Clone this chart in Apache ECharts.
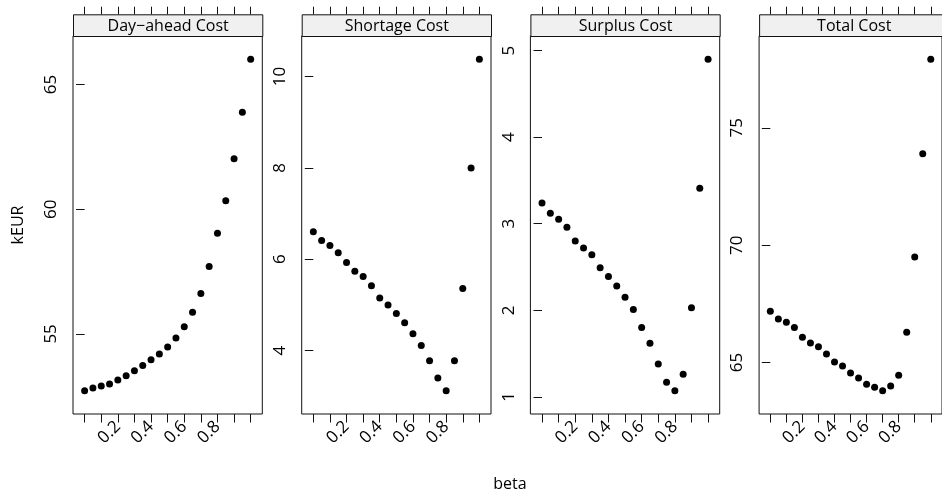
<!DOCTYPE html>
<html><head><meta charset="utf-8">
<script src="https://cdn.jsdelivr.net/npm/echarts@6/dist/echarts.min.js"></script>
<style>html,body{margin:0;padding:0;background:#fff}#c{width:942px;height:499px}</style>
</head><body><div id="c"></div><script>
const beta = [0, 0.05, 0.1, 0.15, 0.2, 0.25, 0.3, 0.35, 0.4, 0.45, 0.5, 0.55, 0.6, 0.65, 0.7, 0.75, 0.8, 0.85, 0.9, 0.95, 1.0];
const panelTitles = ['Day\u2212ahead Cost', 'Shortage Cost', 'Surplus Cost', 'Total Cost'];
const dayAhead = [52.72, 52.83, 52.91, 52.99, 53.15, 53.32, 53.52, 53.73, 53.96, 54.19, 54.48, 54.84, 55.29, 55.87, 56.62, 57.70, 59.03, 60.34, 62.02, 63.88, 66.01];
const shortage = [6.60, 6.41, 6.30, 6.14, 5.93, 5.74, 5.62, 5.42, 5.15, 5.00, 4.81, 4.61, 4.37, 4.11, 3.78, 3.40, 3.12, 3.78, 5.36, 8.00, 10.38];
const surplus = [3.24, 3.12, 3.05, 2.96, 2.80, 2.72, 2.64, 2.49, 2.39, 2.28, 2.15, 2.01, 1.80, 1.62, 1.38, 1.17, 1.07, 1.26, 2.03, 3.41, 4.90];
const total = [67.19, 66.86, 66.72, 66.49, 66.08, 65.83, 65.68, 65.37, 65.03, 64.86, 64.56, 64.34, 64.08, 63.95, 63.80, 64.00, 64.46, 66.29, 69.50, 73.89, 77.92];
const xTicks = [0, 0.1, 0.2, 0.3, 0.4, 0.5, 0.6, 0.7, 0.8, 0.9, 1.0];
const xLabels = [0.2, 0.4, 0.6, 0.8];
const yTicksDA = [55, 60, 65];
const yTicksShort = [4, 6, 8, 10];
const yTicksSurp = [1, 2, 3, 4, 5];
const yTicksTotal = [65, 70, 75];

const seriesVals = [dayAhead, shortage, surplus, total];
const yTicks = [yTicksDA, yTicksShort, yTicksSurp, yTicksTotal];

const FONT = 'Open Sans';
const PAD = 0.07;
const gLeft0 = 73, gStep = 228.7, gW = 189.3, gTop = 36, gH = 378, stripH = 21.7;

const grids = [], xAxes = [], yAxes = [], series = [], graphics = [];
seriesVals.forEach((vals, i) => {
  const left = gLeft0 + i * gStep;
  grids.push({left: left, top: gTop, width: gW, height: gH, show: true, borderColor: '#111', borderWidth: 1, containLabel: false});
  const xmin = beta[0] - PAD * (beta[beta.length - 1] - beta[0]);
  const xmax = beta[beta.length - 1] + PAD * (beta[beta.length - 1] - beta[0]);
  xAxes.push({
    type: 'value', gridIndex: i, position: 'bottom', min: xmin, max: xmax,
    splitLine: {show: false}, axisLine: {show: false},
    axisTick: {show: true, length: 8.5, customValues: xTicks, lineStyle: {color: '#111'}},
    axisLabel: {show: true, rotate: 45, margin: 10, customValues: xLabels, color: '#000', fontFamily: FONT, fontSize: 17,
      formatter: v => v.toFixed(1)}
  });
  xAxes.push({
    type: 'value', gridIndex: i, position: 'top', offset: stripH, min: xmin, max: xmax,
    splitLine: {show: false}, axisLine: {show: false},
    axisTick: {show: true, length: 7.6, customValues: xTicks, lineStyle: {color: '#111'}},
    axisLabel: {show: false}
  });
  const lo = Math.min(...vals), hi = Math.max(...vals);
  yAxes.push({
    type: 'value', gridIndex: i, position: 'left', min: lo - PAD * (hi - lo), max: hi + PAD * (hi - lo),
    splitLine: {show: false}, axisLine: {show: false},
    axisTick: {show: true, length: 8.5, customValues: yTicks[i], lineStyle: {color: '#111'}},
    axisLabel: {show: true, rotate: 90, margin: 13, customValues: yTicks[i], color: '#000', fontFamily: FONT, fontSize: 17},
    name: i === 0 ? 'kEUR' : '', nameLocation: 'middle', nameRotate: 90, nameGap: 47,
    nameTextStyle: {color: '#000', fontFamily: FONT, fontSize: 16}
  });
  series.push({
    type: 'scatter', xAxisIndex: 2 * i, yAxisIndex: i, symbol: 'circle', symbolSize: 7,
    itemStyle: {color: '#000', opacity: 1}, data: beta.map((b, k) => [b, vals[k]]), silent: true
  });
  graphics.push({
    type: 'group', left: left, top: gTop - stripH,
    children: [
      {type: 'rect', shape: {x: 0, y: 0, width: gW, height: stripH}, style: {fill: '#f0f0f0', stroke: '#111', lineWidth: 1}},
      {type: 'text', x: gW / 2, y: stripH / 2 + 0.5, style: {text: panelTitles[i], fill: '#000', font: '16px "' + FONT + '"', textAlign: 'center', textVerticalAlign: 'middle'}}
    ]
  });
});
graphics.push({type: 'text', x: 510, y: 484, style: {text: 'beta', fill: '#000', font: '16px "' + FONT + '"', textAlign: 'center', textVerticalAlign: 'middle'}});

const chart = echarts.init(document.getElementById('c'), null, {renderer: 'canvas'});
chart.setOption({
  backgroundColor: '#fff', animation: false,
  grid: grids, xAxis: xAxes, yAxis: yAxes, series: series, graphic: graphics
});
</script></body></html>
